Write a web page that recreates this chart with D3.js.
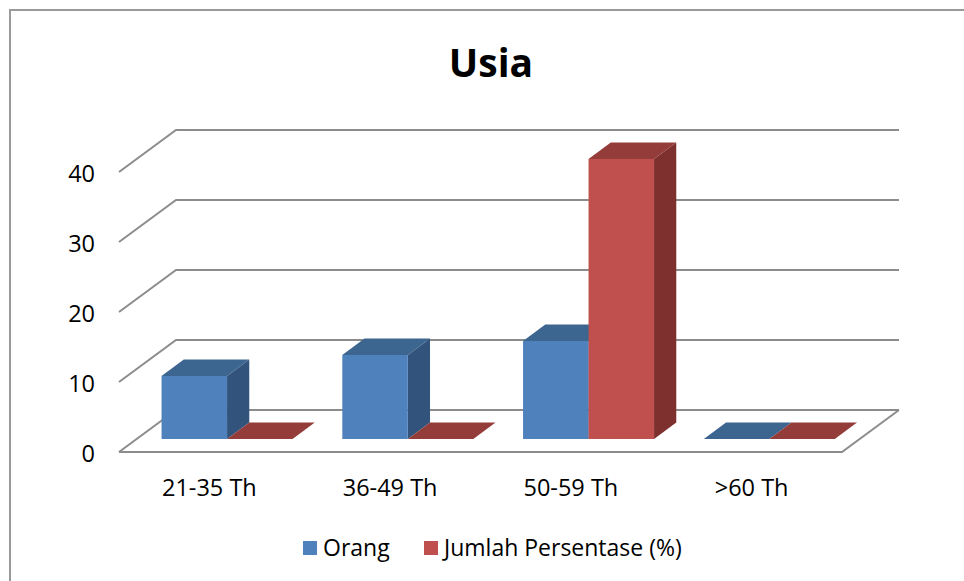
<!DOCTYPE html>
<html><head><meta charset="utf-8">
<script src="https://cdn.jsdelivr.net/npm/d3@7/dist/d3.min.js"></script>
<style>
html,body{margin:0;padding:0;background:#fff;}
svg{display:block;font-family:"Open Sans",sans-serif;}
</style></head>
<body>
<svg id="c" width="964" height="581"></svg>
<script>
const categories = ["21-35 Th", "36-49 Th", "50-59 Th", ">60 Th"];
const seriesNames = ["Orang", "Jumlah Persentase (%)"];
const orang = [9, 12, 14, 0];
const persen = [0, 0, 40, 0];
const yTicks = [0, 10, 20, 30, 40];
const title = "Usia";

const colors = [
  {front:"#4F81BD", top:"#3C6590", side:"#32547C"},
  {front:"#C0504D", top:"#943C3A", side:"#7D302E"}
];
const series = [orang, persen];

const svg = d3.select("#c");
// outer border
svg.append("rect").attr("x",10).attr("y",10).attr("width",1000).attr("height",700)
  .attr("fill","none").attr("stroke","#9a9a9a").attr("stroke-width",2);

// title
svg.append("text").attr("x",491).attr("y",77).attr("text-anchor","middle")
  .attr("font-size",39).attr("font-weight","bold").attr("fill","#000").text(title);

// 3D geometry
const DX = 57, DY = -42; // full depth offset
const y = d3.scaleLinear().domain([0,40]).range([452,172]);
const x = d3.scaleBand().domain(categories).range([119,842]);
const f0 = 0.31, f1 = 0.70; // bar depth fractions
const barW = 65.5;

const grid = svg.append("g").attr("stroke","#8c8c8c").attr("stroke-width",2).attr("fill","none");
yTicks.forEach(v => {
  const yy = y(v);
  grid.append("path").attr("d", `M${x.range()[0]},${yy}L${x.range()[0]+DX},${yy+DY}L${x.range()[1]+DX},${yy+DY}`);
});
// floor front and right edges
grid.append("path").attr("d", `M${x.range()[0]},${y(0)}L${x.range()[1]},${y(0)}L${x.range()[1]+DX},${y(0)+DY}`);

// y tick labels
svg.append("g").selectAll("text").data(yTicks).join("text")
  .attr("x",95).attr("y",d=>y(d)+1.5).attr("dy","0.35em").attr("text-anchor","end")
  .attr("font-size",23.5).attr("fill","#000").text(d=>d);

// bars
const bars = svg.append("g");
const ox0 = DX*f0, oy0 = DY*f0, bdx = DX*(f1-f0), bdy = DY*(f1-f0);
categories.forEach((c,i) => {
  const cx = x(c) + x.bandwidth()/2 + ox0;
  series.forEach((s,j) => {
    const x0 = cx - barW + j*barW, x1 = x0 + barW;
    const yb = y(0) + oy0, yt = y(s[i]) + oy0;
    const col = colors[j];
    if (s[i] > 0) {
      bars.append("path").attr("fill",col.side)
        .attr("d",`M${x1},${yb}L${x1+bdx},${yb+bdy}L${x1+bdx},${yt+bdy}L${x1},${yt}Z`);
      bars.append("rect").attr("x",x0).attr("y",yt).attr("width",barW).attr("height",yb-yt).attr("fill",col.front);
    }
    bars.append("path").attr("fill",col.top)
      .attr("d",`M${x0},${yt}L${x0+bdx},${yt+bdy}L${x1+bdx},${yt+bdy}L${x1},${yt}Z`);
  });
});

// x labels
svg.append("g").selectAll("text").data(categories).join("text")
  .attr("x",d=>x(d)+x.bandwidth()/2).attr("y",488).attr("dy","0.35em").attr("text-anchor","middle")
  .attr("font-size",23.5).attr("fill","#000").text(d=>d);

// legend
const leg = svg.append("g");
const legItems = [{x:303, name:seriesNames[0], c:colors[0].front},{x:424, name:seriesNames[1], c:colors[1].front}];
legItems.forEach(it => {
  leg.append("rect").attr("x",it.x).attr("y",541).attr("width",14).attr("height",14).attr("fill",it.c);
  leg.append("text").attr("x",it.x+20).attr("y",548).attr("dy","0.35em").attr("font-size",23).attr("fill","#000").text(it.name);
});
</script>
</body></html>
